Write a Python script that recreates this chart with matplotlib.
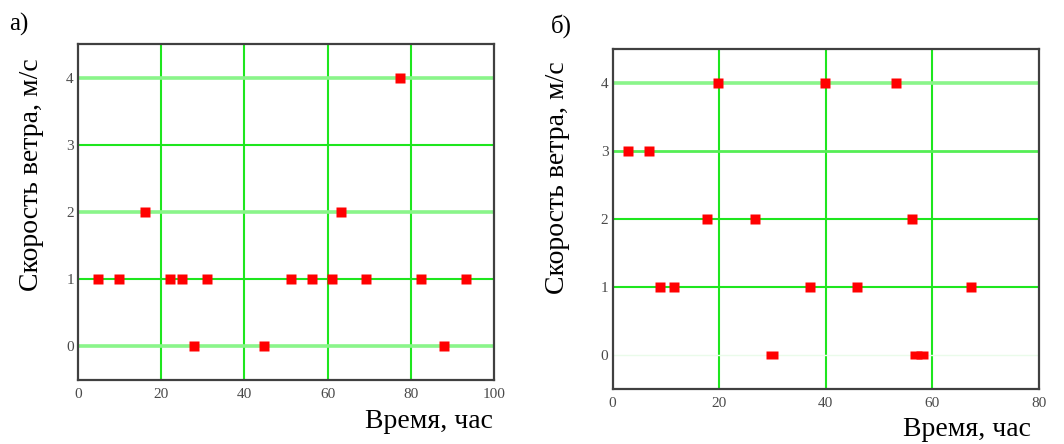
import numpy as np
import matplotlib
matplotlib.use("Agg")
from matplotlib import pyplot as plt

plt.rcParams['font.family'] = ['Liberation Serif', 'DejaVu Serif']

# panel а)
a_time = [4.7, 9.9, 16.1, 22.0, 24.9, 28.0, 30.9, 44.7, 51.1, 56.3, 61.0, 63.1, 69.2, 77.3, 82.5, 88.0, 93.2]
a_speed = [1, 1, 2, 1, 1, 0, 1, 0, 1, 1, 1, 2, 1, 4, 1, 0, 1]
a_xticks = [0, 20, 40, 60, 80, 100]

# panel б)
b_time = [2.9, 6.9, 8.9, 11.6, 17.8, 19.7, 26.8, 29.9, 37.0, 39.9, 45.9, 53.2, 56.2, 57.0, 58.0, 67.3]
b_speed = [3, 3, 1, 1, 2, 4, 2, 0, 1, 4, 1, 4, 2, 0, 0, 1]
b_xticks = [0, 20, 40, 60, 80]

y_ticks = [0, 1, 2, 3, 4]

XLABEL = "Время, час"
YLABEL = "Скорость ветра, м/с"

RED = "#ff0000"
GREEN = "#1ee61e"
LIGHT_GREEN = "#8af58a"
FRAME = "#404040"

fig = plt.figure(figsize=(10.64, 4.44), dpi=100)
ax1 = fig.add_axes([0.0733, 0.1441, 0.391, 0.7568])
ax2 = fig.add_axes([0.5757, 0.1246, 0.4008, 0.765])


def style_axes(ax, xticks, xmax, hstyles):
    ax.set_xlim(0, xmax)
    ax.set_ylim(-0.5, 4.5)
    ax.set_xticks(xticks)
    ax.set_yticks(y_ticks)
    ax.tick_params(length=0, labelsize=11, labelcolor="#4a4a4a")
    ax.tick_params(axis='x', pad=6)
    ax.tick_params(axis='y', pad=3)
    for sp in ax.spines.values():
        sp.set_color(FRAME)
        sp.set_linewidth(1.6)
        sp.set_zorder(5)
    # vertical grid (skip the frame edges)
    for xv in xticks[1:-1]:
        ax.axvline(xv, color=GREEN, lw=1.5, zorder=1)
    # horizontal grid with its uneven look
    for yv, (col, lw) in zip(y_ticks, hstyles):
        ax.axhline(yv, color=col, lw=lw, zorder=1)


style_axes(ax1, a_xticks, 100,
           [(LIGHT_GREEN, 2.6), (GREEN, 1.5), (LIGHT_GREEN, 2.6), (GREEN, 1.5), (LIGHT_GREEN, 2.6)])
style_axes(ax2, b_xticks, 80,
           [("#eafbea", 1.0), (GREEN, 1.5), (GREEN, 1.5), ("#55ee55", 2.0), (LIGHT_GREEN, 2.6)])

ax1.plot(a_time, a_speed, ls="none", marker="s", ms=6.6, color=RED, mec="none", zorder=3)

# the points at zero on panel б) are drawn flatter in the original
b_time = np.array(b_time)
b_speed = np.array(b_speed)
flat = b_speed == 0
ax2.plot(b_time[~flat], b_speed[~flat], ls="none", marker="s", ms=6.6, color=RED, mec="none", zorder=3)
flat_marker = [(-1, -0.65), (1, -0.65), (1, 0.65), (-1, 0.65), (-1, -0.65)]
ax2.plot(b_time[flat], b_speed[flat], ls="none", marker=flat_marker, ms=9.3, color=RED, mec="none", zorder=3)

# axis titles placed like the source figure
fig.text(32 / 1064, 1 - 175 / 444, YLABEL, rotation=90, fontsize=20, ha="center", va="center")
fig.text(557 / 1064, 1 - 178 / 444, YLABEL, rotation=90, fontsize=20, ha="center", va="center")
fig.text(493 / 1064, 1 - 421 / 444, XLABEL, fontsize=20, ha="right", va="center")
fig.text(1031 / 1064, 1 - 429 / 444, XLABEL, fontsize=20, ha="right", va="center")

fig.text(9 / 1064, 1 - 24 / 444, "а)", fontsize=18, ha="left", va="center")
fig.text(551 / 1064, 1 - 26 / 444, "б)", fontsize=18, ha="left", va="center")

fig.savefig("out.png", dpi=100)
